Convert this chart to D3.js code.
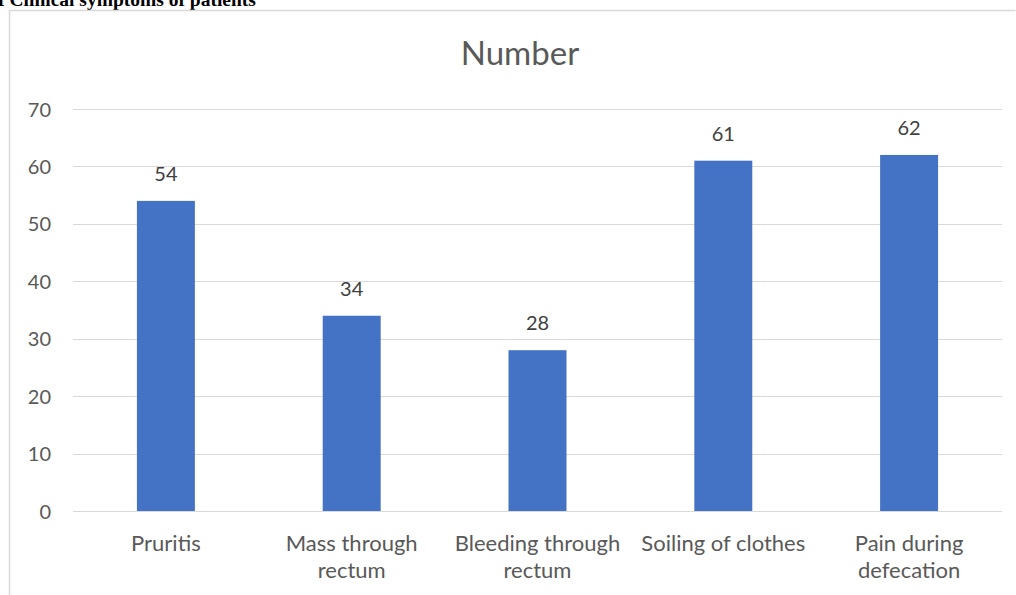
<!DOCTYPE html>
<html>
<head>
<meta charset="utf-8">
<script src="https://cdn.jsdelivr.net/npm/d3@7"></script>
<style>
  html, body { margin: 0; padding: 0; background: #fff; }
  svg { display: block; }
</style>
</head>
<body>
<svg id="chart" width="1016" height="595"></svg>
<script>
const categories = [
  ["Pruritis"],
  ["Mass through", "rectum"],
  ["Bleeding through", "rectum"],
  ["Soiling of clothes"],
  ["Pain during", "defecation"]
];
const values = [54, 34, 28, 61, 62];
const yTicks = [0, 10, 20, 30, 40, 50, 60, 70];

const svg = d3.select("#chart");
const font = "Lato, 'Open Sans', sans-serif";
const grey = "#595959";

// caption above the chart frame
svg.append("text")
  .attr("x", -3).attr("y", 5.5)
  .attr("font-family", "'Liberation Serif', 'Times New Roman', serif")
  .attr("font-weight", "bold")
  .attr("font-size", 19.5)
  .attr("fill", "#000")
  .text("I Clinical symptoms of patients");

// chart frame
svg.append("path")
  .attr("d", "M9.5,600 V10.5 H1015.5")
  .attr("fill", "none")
  .attr("stroke", "#d9d9d9")
  .attr("stroke-width", 1.5);

const plot = { left: 73, right: 1002, top: 109, bottom: 511 };

const x = d3.scaleBand()
  .domain(d3.range(categories.length))
  .range([plot.left, plot.right])
  .paddingInner(0.688)
  .paddingOuter(0.344);

const y = d3.scaleLinear()
  .domain([0, 70])
  .range([plot.bottom, plot.top]);

// gridlines
svg.append("g")
  .selectAll("line")
  .data(yTicks)
  .join("line")
  .attr("x1", plot.left).attr("x2", plot.right)
  .attr("y1", d => Math.round(y(d)) + 0.5)
  .attr("y2", d => Math.round(y(d)) + 0.5)
  .attr("stroke", "#d9d9d9")
  .attr("stroke-width", 1);

// y axis labels
const yAxis = d3.axisLeft(y).tickValues(yTicks).tickSize(0).tickPadding(0);
const yg = svg.append("g")
  .attr("transform", `translate(${plot.left - 22},0)`)
  .call(yAxis);
yg.select(".domain").remove();
yg.selectAll("text")
  .attr("font-family", font)
  .attr("font-size", 20)
  .attr("fill", grey)
  .attr("dy", "0.35em");

// bars
svg.append("g")
  .selectAll("rect")
  .data(values)
  .join("rect")
  .attr("x", (d, i) => x(i))
  .attr("width", x.bandwidth())
  .attr("y", d => y(d))
  .attr("height", d => y(0) - y(d))
  .attr("fill", "#4472c4");

// value labels
svg.append("g")
  .selectAll("text")
  .data(values)
  .join("text")
  .attr("x", (d, i) => x(i) + x.bandwidth() / 2)
  .attr("y", d => y(d) - 20)
  .attr("text-anchor", "middle")
  .attr("font-family", font)
  .attr("font-size", 20)
  .attr("fill", "#404040")
  .text(d => d);

// category labels
const xg = svg.append("g");
categories.forEach((lines, i) => {
  const t = xg.append("text")
    .attr("x", x(i) + x.bandwidth() / 2)
    .attr("y", 551)
    .attr("text-anchor", "middle")
    .attr("font-family", font)
    .attr("font-size", 22)
    .attr("fill", grey);
  lines.forEach((ln, k) => {
    t.append("tspan")
      .attr("x", x(i) + x.bandwidth() / 2)
      .attr("dy", k === 0 ? 0 : 26.5)
      .text(ln);
  });
});

// chart title
svg.append("text")
  .attr("x", 520).attr("y", 65)
  .attr("text-anchor", "middle")
  .attr("font-family", font)
  .attr("font-size", 33)
  .attr("fill", grey)
  .text("Number");
</script>
</body>
</html>
